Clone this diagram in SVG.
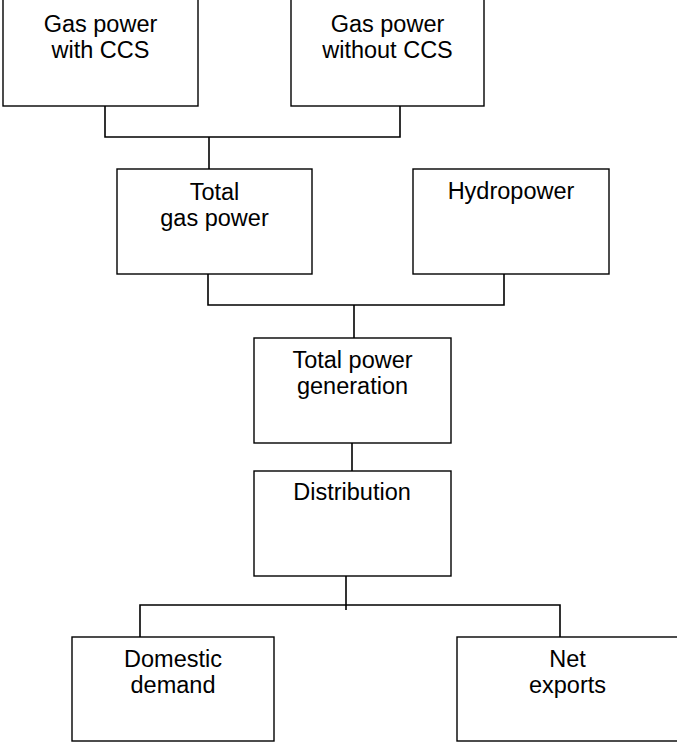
<svg xmlns="http://www.w3.org/2000/svg" width="677" height="742" viewBox="0 0 677 742">
<style>
.box{fill:#fff;stroke:#000;stroke-width:1.4}
.c{fill:none;stroke:#000;stroke-width:1.6}
text{font-family:"Liberation Sans",Arial,sans-serif;font-size:23.5px;fill:#000;text-anchor:middle}
</style>
<rect width="677" height="742" fill="#fff"/>
<g id="connectors">
<polyline class="c" points="105,106 105,137 400,137 400,106"/>
<line class="c" x1="209" y1="137" x2="209" y2="169"/>
<polyline class="c" points="208,274 208,305 504,305 504,274"/>
<line class="c" x1="354" y1="305" x2="354" y2="338"/>
<line class="c" x1="352" y1="439" x2="352" y2="471"/>
<line class="c" x1="346" y1="576" x2="346" y2="610"/>
<polyline class="c" points="140,637 140,605 560,605 560,637"/>
</g>
<g id="gas-ccs">
<rect class="box" x="3" y="-1" width="195" height="107"/>
<text x="100.5" y="32">Gas power</text>
<text x="100.5" y="58">with CCS</text>
</g>
<g id="gas-noccs">
<rect class="box" x="291" y="-1" width="193" height="107"/>
<text x="387.5" y="32">Gas power</text>
<text x="387.5" y="58">without CCS</text>
</g>
<g id="total-gas">
<rect class="box" x="117" y="169" width="195" height="105"/>
<text x="214.5" y="200">Total</text>
<text x="214.5" y="226">gas power</text>
</g>
<g id="hydro">
<rect class="box" x="413" y="169" width="196" height="105"/>
<text x="511" y="199">Hydropower</text>
</g>
<g id="total-gen">
<rect class="box" x="254" y="338" width="197" height="105"/>
<text x="352.5" y="368">Total power</text>
<text x="352.5" y="394">generation</text>
</g>
<g id="distribution">
<rect class="box" x="254" y="471" width="197" height="105"/>
<text x="352" y="500">Distribution</text>
</g>
<g id="domestic">
<rect class="box" x="72" y="637" width="202" height="104"/>
<text x="173" y="667">Domestic</text>
<text x="173" y="693">demand</text>
</g>
<g id="exports">
<rect class="box" x="457" y="637" width="230" height="104"/>
<text x="567.5" y="667">Net</text>
<text x="567.5" y="693">exports</text>
</g>
</svg>
